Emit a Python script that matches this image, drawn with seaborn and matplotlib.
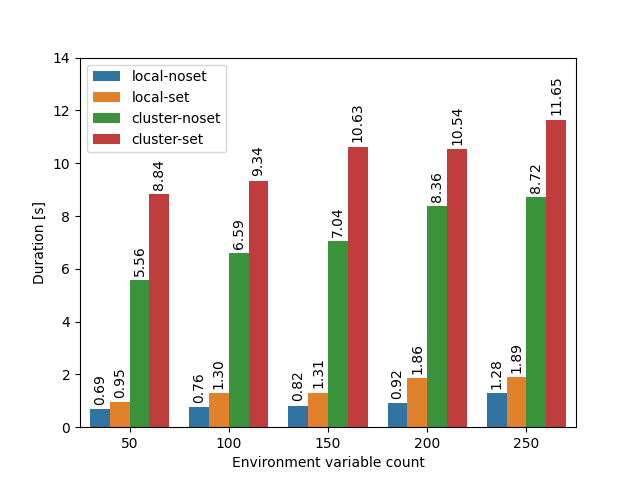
import pandas as pd
import matplotlib
matplotlib.use("Agg")
import matplotlib.pyplot as plt
import seaborn as sns

# data
env_counts = [50, 100, 150, 200, 250]
modes = ["local-noset", "local-set", "cluster-noset", "cluster-set"]
local_noset = [0.69, 0.76, 0.82, 0.92, 1.28]
local_set = [0.95, 1.30, 1.31, 1.86, 1.89]
cluster_noset = [5.56, 6.59, 7.04, 8.36, 8.72]
cluster_set = [8.84, 9.34, 10.63, 10.54, 11.65]

series = [local_noset, local_set, cluster_noset, cluster_set]
rows = []
for mode, vals in zip(modes, series):
    for c, v in zip(env_counts, vals):
        rows.append({"count": c, "mode": mode, "duration": v})
df = pd.DataFrame(rows)

fig, ax = plt.subplots(figsize=(6.4, 4.8), dpi=100)
sns.barplot(data=df, x="count", y="duration", hue="mode",
            hue_order=modes, palette="tab10", ax=ax)

for container in ax.containers:
    ax.bar_label(container, fmt="%.2f", rotation=90, padding=3)

ax.set_ylim(0, 14)
ax.set_xlabel("Environment variable count")
ax.set_ylabel("Duration [s]")
ax.legend(loc="upper left")

fig.savefig("out.png")
